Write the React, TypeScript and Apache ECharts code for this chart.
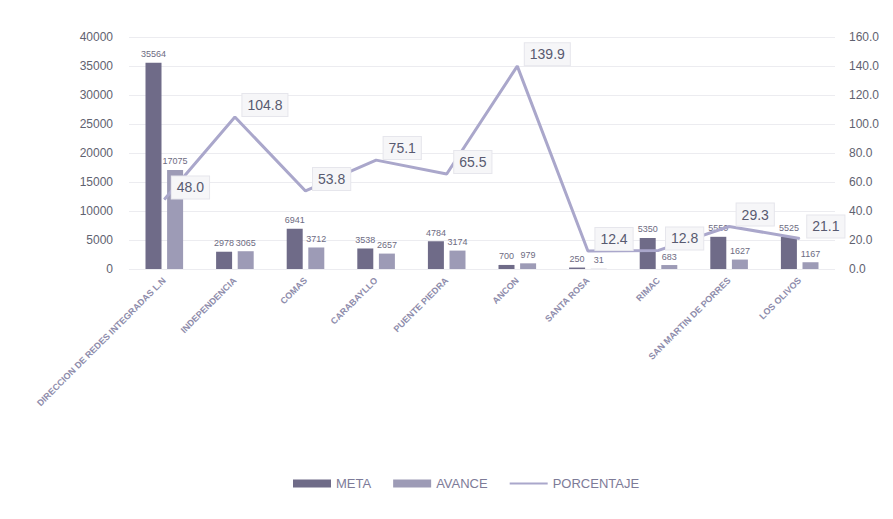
import React, { useEffect, useRef } from "react";
import * as echarts from "echarts";

const categories = [
  "DIRECCION DE REDES INTEGRADAS L.N",
  "INDEPENDENCIA",
  "COMAS",
  "CARABAYLLO",
  "PUENTE PIEDRA",
  "ANCON",
  "SANTA ROSA",
  "RIMAC",
  "SAN MARTIN DE PORRES",
  "LOS OLIVOS",
];
const meta = [35564, 2978, 6941, 3538, 4784, 700, 250, 5350, 5550, 5525];
const avance = [17075, 3065, 3712, 2657, 3174, 979, 31, 683, 1627, 1167];
const porcentaje = [48.0, 104.8, 53.8, 75.1, 65.5, 139.9, 12.4, 12.8, 29.3, 21.1];

export default function App() {
  const ref = useRef<HTMLDivElement>(null);
  useEffect(() => {
    if (!ref.current) return;
    const chart = echarts.init(ref.current, null, { renderer: "svg" });
    const barLabel = {
      show: true,
      position: "top" as const,
      fontSize: 9,
      color: "#6d6b82",
      distance: 4,
    };
    chart.setOption({
      animation: false,
      backgroundColor: "#ffffff",
      textStyle: { fontFamily: "Liberation Sans, Arial, sans-serif" },
      grid: { left: 129, right: 58, top: 37, bottom: 250 },
      legend: {
        bottom: 24,
        left: 288,
        itemWidth: 38,
        itemHeight: 8,
        itemGap: 22,
        textStyle: { color: "#7d7b98", fontSize: 13 },
        data: [
          { name: "META", icon: "rect" },
          { name: "AVANCE", icon: "rect" },
          { name: "PORCENTAJE", icon: "path://M0,0 L38,0 L38,2 L0,2 Z" },
        ],
      },
      xAxis: {
        type: "category",
        data: categories,
        axisLine: { show: false },
        axisTick: { show: false },
        axisLabel: {
          rotate: 45,
          interval: 0,
          fontSize: 9,
          fontWeight: "bold",
          color: "#8e8cab",
          margin: 10,
        },
      },
      yAxis: [
        {
          type: "value",
          min: 0,
          max: 40000,
          interval: 5000,
          axisLine: { show: false },
          axisTick: { show: false },
          axisLabel: { color: "#5f6270", fontSize: 12, margin: 16, formatter: (v: number) => String(v) },
          splitLine: { lineStyle: { color: "#ececf0", width: 1 } },
        },
        {
          type: "value",
          min: 0,
          max: 160,
          interval: 20,
          axisLine: { show: false },
          axisTick: { show: false },
          axisLabel: {
            color: "#5f6270",
            fontSize: 12,
            margin: 14,
            formatter: (v: number) => v.toFixed(1),
          },
          splitLine: { show: false },
        },
      ],
      series: [
        {
          name: "META",
          type: "bar",
          data: meta,
          barWidth: 16,
          barGap: "35%",
          itemStyle: { color: "#6f6b88" },
          label: barLabel,
        },
        {
          name: "AVANCE",
          type: "bar",
          data: avance,
          barWidth: 16,
          itemStyle: { color: "#9d9bb6" },
          label: barLabel,
        },
        {
          name: "PORCENTAJE",
          type: "line",
          yAxisIndex: 1,
          data: porcentaje,
          symbol: "circle",
          symbolSize: 1,
          showSymbol: true,
          z: 5,
          lineStyle: { color: "#aaa7cb", width: 3 },
          itemStyle: { color: "#aaa7cb" },
          label: {
            show: true,
            position: "right",
            offset: [2, -12],
            formatter: (p: any) => Number(p.value).toFixed(1),
            fontSize: 14,
            color: "#585a70",
            backgroundColor: "#f6f6f8",
            borderColor: "#e6e6ec",
            borderWidth: 1,
            padding: [4, 5],
          },
        },
      ],
    });
    return () => chart.dispose();
  }, []);
  return (
    <div
      ref={ref}
      style={{ position: "fixed", left: 0, top: 0, width: 893, height: 519, background: "#fff" }}
    />
  );
}
